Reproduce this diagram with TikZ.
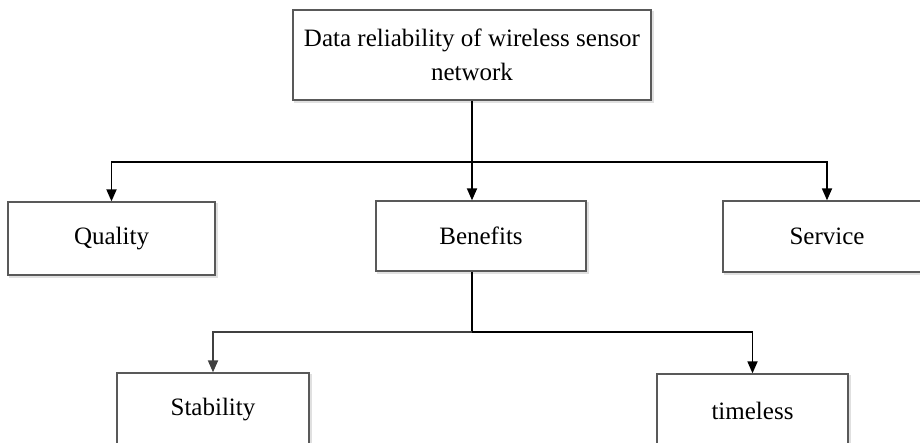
\documentclass[tikz,border=0pt]{standalone}
\usepackage{fontspec}
\setmainfont{Liberation Serif}
\usetikzlibrary{arrows.meta, positioning, shadows}

\begin{document}
\begin{tikzpicture}[x=1pt, y=-1pt,
            tree node/.style={rectangle, draw=black!65, line width=1.3pt, fill=white,
                              inner sep=0pt, align=center,
                              font=\fontsize{25}{34}\selectfont,
                              general shadow={shadow xshift=2pt, shadow yshift=-2pt,
                                              draw=black!12, line width=1.3pt, fill=none}},
            link/.style={line width=1.8pt, black},
            arrow/.style={link, -{Triangle[length=12pt, width=10pt]}}]
            
            \useasboundingbox (0,0) rectangle (920,443);

            % top of the tree
            \node[tree node, minimum width=358pt, minimum height=90pt] (Root) at (472,55)
                {Data reliability of wireless sensor\\network};

            % first level
            \node[tree node, minimum width=207pt, minimum height=73pt] (Quality) at (111.5,238.5) {Quality};
            \node[tree node, minimum width=210pt, minimum height=70pt] (Benefits) at (481,236) {Benefits};
            \node[tree node, minimum width=208pt, minimum height=71pt] (Service) at (827,236.5) {Service};

            % second level
            \node[tree node, minimum width=192pt, minimum height=74pt] (Stability) at (213,410) {Stability};
            \node[tree node, minimum width=191pt, minimum height=74pt] (timeless) at (752.5,411) {timeless};

            \coordinate (split1) at (472,162);
            \coordinate (split2) at (472,332);

            \draw[link] (Root.south) -- (split1);
            \draw[arrow] (split1) -| (Quality.north);
            \draw[arrow] (split1) -- (split1 |- Benefits.north);
            \draw[arrow] (split1) -| (Service.north);

            \draw[link] (split2 |- Benefits.south) -- (split2);
            \draw[arrow, black!75] (split2) -| (Stability.north);
            \draw[arrow] (split2) -| (timeless.north);
        \end{tikzpicture}
\end{document}
